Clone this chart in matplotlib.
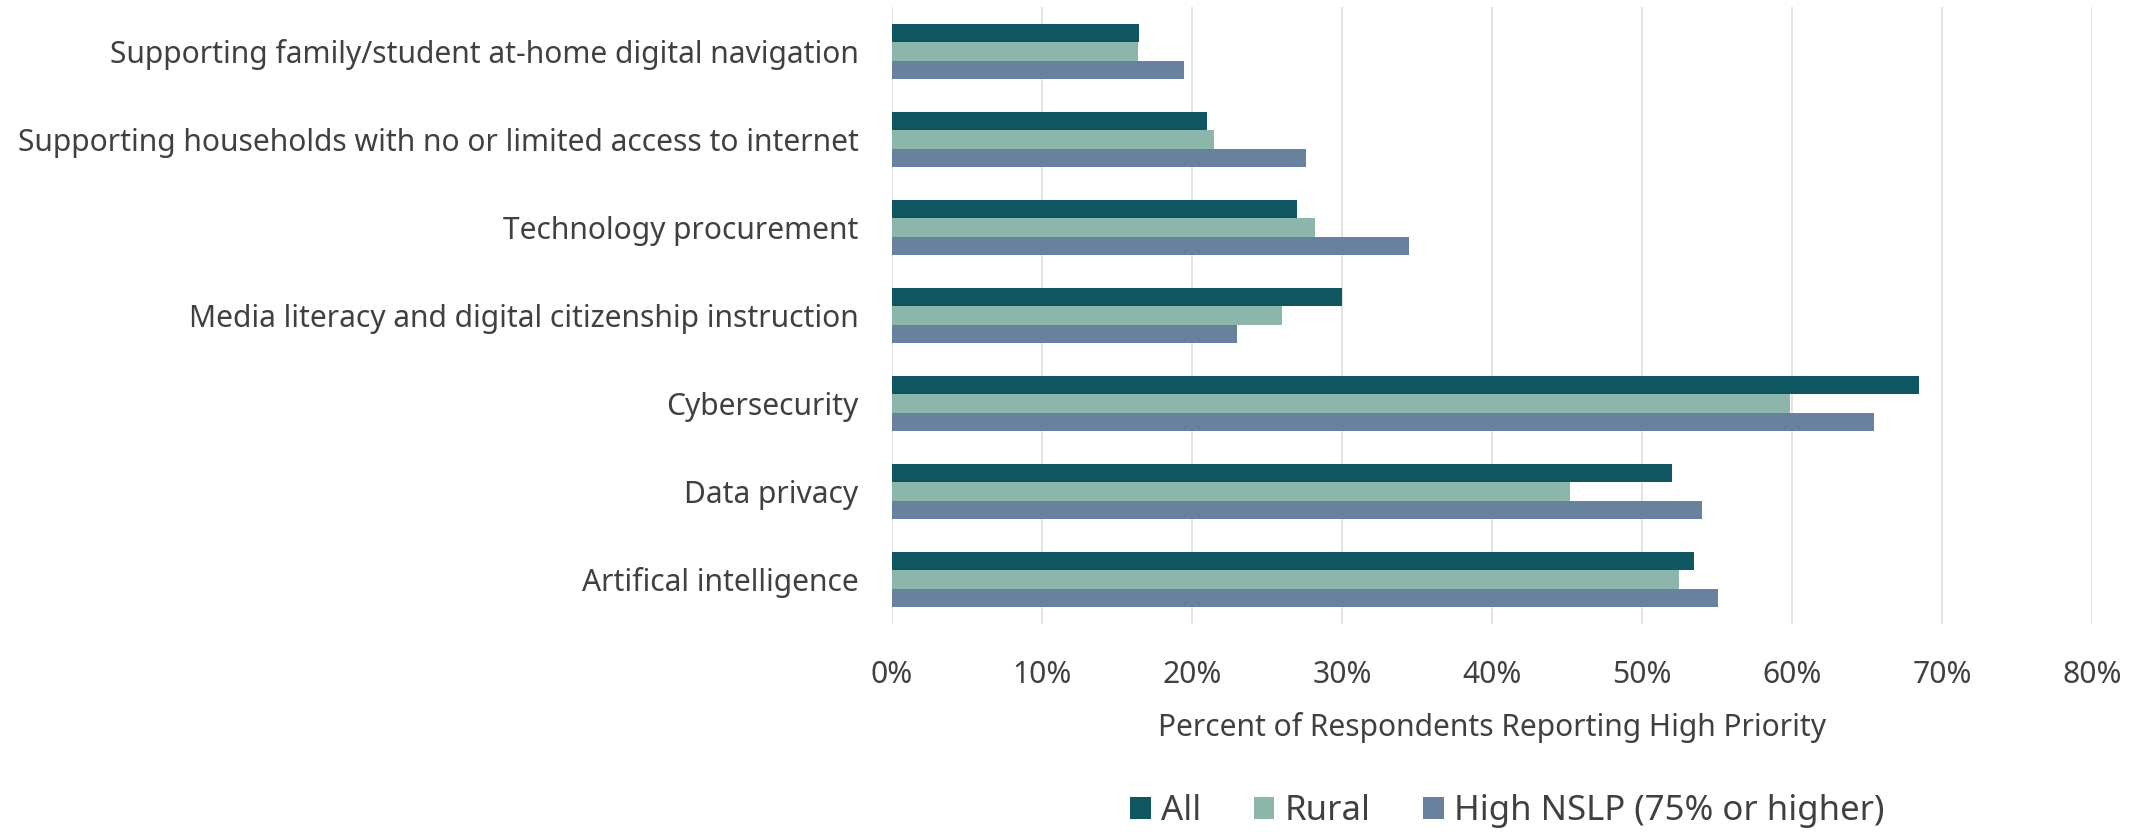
import matplotlib.pyplot as plt
import numpy as np
from matplotlib.ticker import PercentFormatter

plt.rcParams['font.family'] = ['Noto Sans', 'DejaVu Sans']

# Datos
categorias = [
    "Supporting family/student at-home digital navigation",
    "Supporting households with no or limited access to internet",
    "Technology procurement",
    "Media literacy and digital citizenship instruction",
    "Cybersecurity",
    "Data privacy",
    "Artifical intelligence",
]
todos = [16.5, 21.0, 27.0, 30.0, 68.5, 52.0, 53.5]
rural = [16.4, 21.5, 28.2, 26.0, 59.9, 45.2, 52.5]
nslp = [19.5, 27.6, 34.5, 23.0, 65.5, 54.0, 55.1]
ticks = [0, 10, 20, 30, 40, 50, 60, 70, 80]

col_todos = "#0F5660"
col_rural = "#8DB6AB"
col_nslp = "#68819C"
gris = "#404040"

fig = plt.figure(figsize=(21.44, 8.32), dpi=100)
ax = fig.add_axes([0.416, 0.2506, 0.5597, 0.7404])

y = np.arange(len(categorias))
h = 0.208
ax.barh(y - h, todos, height=h, color=col_todos, label="All", zorder=3)
ax.barh(y, rural, height=h, color=col_rural, label="Rural", zorder=3)
ax.barh(y + h, nslp, height=h, color=col_nslp, label="High NSLP (75% or higher)", zorder=3)

ax.set_ylim(len(categorias) - 0.5, -0.5)
ax.set_xlim(0, 80)
ax.set_xticks(ticks)
ax.xaxis.set_major_formatter(PercentFormatter(decimals=0))
ax.set_yticks(y)
ax.set_yticklabels(categorias)

ax.tick_params(axis='both', length=0, labelsize=21.6, colors=gris)
ax.tick_params(axis='x', pad=26)
ax.tick_params(axis='y', pad=24)
ax.grid(axis='x', color="#E0E0E0", linewidth=1.3, zorder=0)
for s in ax.spines.values():
    s.set_visible(False)

ax.set_xlabel("Percent of Respondents Reporting High Priority", fontsize=21.6,
              color=gris, labelpad=16)

leg = fig.legend(loc='center', bbox_to_anchor=(0.703, 0.025), ncol=3, frameon=False,
                 fontsize=25, handlelength=0.6, handleheight=0.6, handletextpad=0.3,
                 columnspacing=1.5)
for t in leg.get_texts():
    t.set_color(gris)

fig.savefig("out.png", dpi=100)
